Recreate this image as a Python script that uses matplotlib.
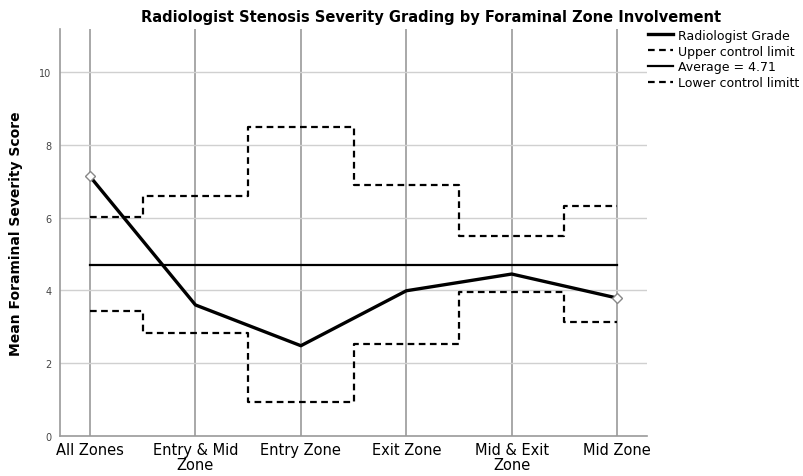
import matplotlib.pyplot as plt

zones = ["All Zones", "Entry & Mid\nZone", "Entry Zone", "Exit Zone", "Mid & Exit\nZone", "Mid Zone"]
grade = [7.13, 3.6, 2.48, 3.99, 4.45, 3.79]
ucl = [6.02, 6.6, 8.5, 6.9, 5.5, 6.33]
lcl = [3.43, 2.83, 0.93, 2.53, 3.96, 3.13]
average = 4.71

fig = plt.figure(figsize=(8.04, 4.77), dpi=100)
ax = fig.add_axes([0.0746, 0.0839, 0.7304, 0.853])
x = list(range(len(zones)))

# grid
for xi in x:
    ax.axvline(xi, color="#9a9a9a", lw=1.2, zorder=0)
for yv in [2, 4, 6, 8, 10]:
    ax.axhline(yv, color="#d0d0d0", lw=1.0, zorder=0)

ax.plot(x, grade, color="black", lw=2.4, label="Radiologist Grade", zorder=3)
ax.plot([x[0], x[-1]], [grade[0], grade[-1]], ls="none", marker="D", ms=5,
        mfc="white", mec="#888888", mew=1.0, zorder=4)
ax.plot(x, ucl, color="black", lw=1.6, ls=(0, (3, 2)), drawstyle="steps-mid",
        label="Upper control limit", zorder=2)
ax.plot([x[0], x[-1]], [average, average], color="black", lw=1.6,
        label="Average = 4.71", zorder=2)
ax.plot(x, lcl, color="black", lw=1.6, ls=(0, (3, 2)), drawstyle="steps-mid",
        label="Lower control limitt", zorder=2)

ax.set_xlim(-0.285, 5.285)
ax.set_ylim(0, 11.18)
ax.set_xticks(x)
ax.set_xticklabels(zones, fontsize=10.5, linespacing=1.05)
ax.set_yticks([0, 2, 4, 6, 8, 10])
ax.tick_params(axis="y", labelsize=7, colors="#444444", length=0, pad=6)
ax.tick_params(axis="x", length=0, pad=4)
for s in ["top", "right"]:
    ax.spines[s].set_visible(False)
for s in ["left", "bottom"]:
    ax.spines[s].set_color("#9a9a9a")
    ax.spines[s].set_linewidth(1.2)

ax.set_ylabel("Mean Foraminal Severity Score", fontsize=10, fontweight="bold", labelpad=12)
fig.text(0.536, 0.964, "Radiologist Stenosis Severity Grading by Foraminal Zone Involvement",
         ha="center", va="center", fontsize=10.5, fontweight="bold")

fig.legend(loc="upper left", bbox_to_anchor=(0.8, 0.948), frameon=False, fontsize=9,
           handlelength=2.0, handletextpad=0.4, labelspacing=0.22, borderaxespad=0)

fig.savefig("out.png", dpi=100)
